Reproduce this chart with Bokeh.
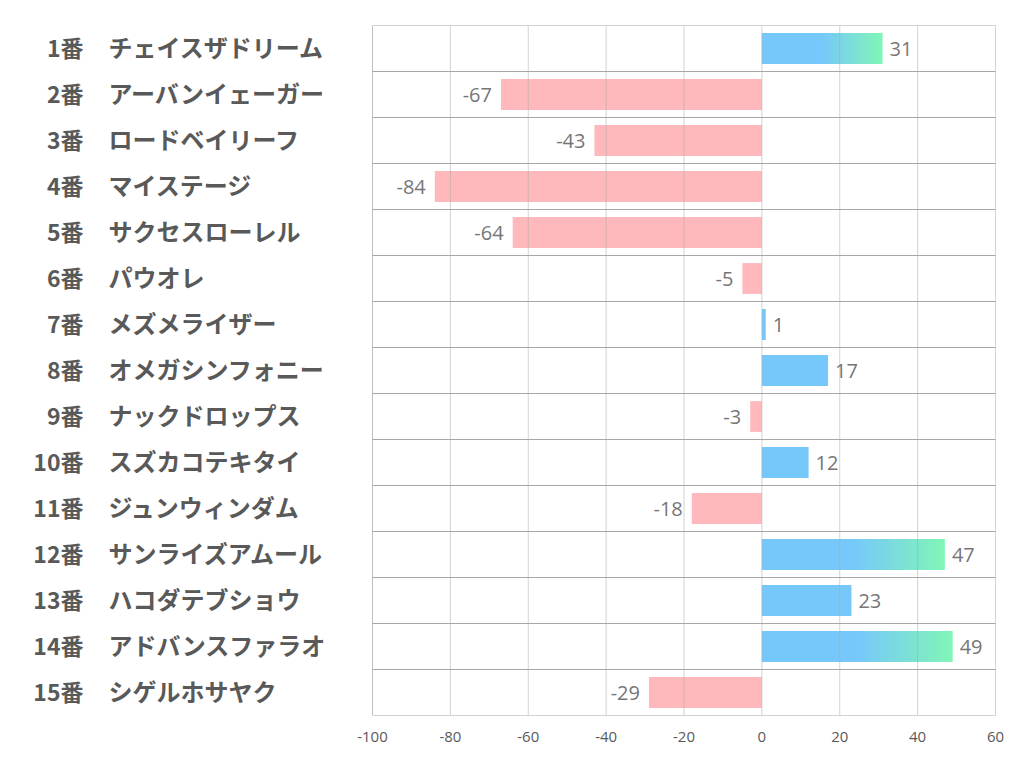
from bokeh.plotting import figure
from bokeh.models import Range1d, FixedTicker, ColumnDataSource
from bokeh.core.properties import value
from bokeh.embed import file_html
from bokeh.resources import INLINE

# ---- data ----
numbers = ["1番", "2番", "3番", "4番", "5番", "6番", "7番", "8番",
           "9番", "10番", "11番", "12番", "13番", "14番", "15番"]
names = ["チェイスザドリーム", "アーバンイェーガー", "ロードベイリーフ", "マイステージ",
         "サクセスローレル", "パウオレ", "メズメライザー", "オメガシンフォニー",
         "ナックドロップス", "スズカコテキタイ", "ジュンウィンダム", "サンライズアムール",
         "ハコダテブショウ", "アドバンスファラオ", "シゲルホサヤク"]
values = [31, -67, -43, -84, -64, -5, 1, 17, -3, 12, -18, 47, 23, 49, -29]
ticks = [-100, -80, -60, -40, -20, 0, 20, 40, 60]
tick_labels = ["-100", "-80", "-60", "-40", "-20", "0", "20", "40", "60"]

# ---- layout / style ----
W, H = 1014, 774
K = 623 / 160.0                 # px per unit
X_START = -100 - 364 / K
X_END = 60 + 8 / K
BLUE = (119, 200, 250)
GREEN = (128, 245, 184)
PINK = "#FFB9BC"
BAR_H = 0.67
GRADIENT_MIN = 30

n = len(values)
centers = [n - i - 0.5 for i in range(n)]

p = figure(width=W, height=H, output_backend="svg", toolbar_location=None,
           x_range=Range1d(X_START, X_END), y_range=Range1d(0, n),
           y_axis_location=None, min_border_left=8, min_border_right=W - 8 - 995,
           min_border_top=25, min_border_bottom=H - 25 - 690)
p.outline_line_color = None
p.xgrid.grid_line_color = None
p.ygrid.grid_line_color = None
p.background_fill_color = "white"
p.border_fill_color = "white"

# bars (solid part)
pos_src = dict(y=[], left=[], right=[], color=[])
for v, c in zip(values, centers):
    if v >= 0:
        solid_end = v / 2 if v >= GRADIENT_MIN else v
        pos_src["y"].append(c); pos_src["left"].append(0)
        pos_src["right"].append(solid_end); pos_src["color"].append("#%02X%02X%02X" % BLUE)
    else:
        pos_src["y"].append(c); pos_src["left"].append(v)
        pos_src["right"].append(0); pos_src["color"].append(PINK)
p.hbar(y="y", left="left", right="right", height=BAR_H, fill_color="color",
       line_color=None, source=ColumnDataSource(pos_src))

# gradient parts
g = dict(left=[], right=[], top=[], bottom=[], color=[])
STEPS = 40
for v, c in zip(values, centers):
    if v >= GRADIENT_MIN:
        a = v / 2
        dv = (v - a) / STEPS
        for s in range(STEPS):
            t = s / (STEPS - 1)
            col = tuple(int(round(BLUE[k] + (GREEN[k] - BLUE[k]) * t)) for k in range(3))
            g["left"].append(a + s * dv - dv * 0.3)
            g["right"].append(min(v, a + (s + 1.3) * dv))
            g["top"].append(c + BAR_H / 2)
            g["bottom"].append(c - BAR_H / 2)
            g["color"].append("#%02X%02X%02X" % col)
p.quad(left="left", right="right", top="top", bottom="bottom", fill_color="color",
       line_color=None, source=ColumnDataSource(g))

# grid lines
p.segment(x0=ticks[1:], y0=[0] * (len(ticks) - 1), x1=ticks[1:], y1=[n] * (len(ticks) - 1),
          line_color="#A8A8A8", line_alpha=0.5, line_width=1)
p.segment(x0=[ticks[0]], y0=[0], x1=[ticks[0]], y1=[n], line_color="#BFBFBF", line_width=1)
p.segment(x0=[ticks[0]] * (n + 1), y0=list(range(n + 1)), x1=[ticks[-1]] * (n + 1),
          y1=list(range(n + 1)), line_color="#A6A6A6", line_width=1)

# category labels
p.text(x=[X_START] * n, y=centers, text=numbers, x_offset=75, y_offset=-2,
       text_align="right", text_baseline="middle",
       text_font=value("Noto Sans CJK JP"), text_font_style="bold",
       text_font_size="23px", text_color="#595959")
p.text(x=[X_START] * n, y=centers, text=names, x_offset=100, y_offset=-2,
       text_align="left", text_baseline="middle",
       text_font=value("Noto Sans CJK JP"), text_font_style="bold",
       text_font_size="24px", text_color="#595959")

# value labels
lab = ColumnDataSource(dict(
    x=values, y=centers, text=[str(v) for v in values],
    off=[7 if v >= 0 else -9 for v in values],
    align=["left" if v >= 0 else "right" for v in values]))
p.text(x="x", y="y", text="text", x_offset="off", text_align="align",
       text_baseline="middle", text_font=value("Open Sans"), text_font_size="20px",
       text_color="#767676", source=lab)

# axis
p.xaxis.ticker = FixedTicker(ticks=ticks)
p.xaxis.major_label_overrides = {t: s for t, s in zip(ticks, tick_labels)}
p.xaxis.axis_line_color = None
p.xaxis.major_tick_line_color = None
p.xaxis.minor_tick_line_color = None
p.xaxis.major_label_standoff = 10
p.xaxis.major_label_text_font = "Open Sans"
p.xaxis.major_label_text_font_size = "15px"
p.xaxis.major_label_text_color = "#595959"

open("out.html", "w").write(file_html(p, INLINE))
